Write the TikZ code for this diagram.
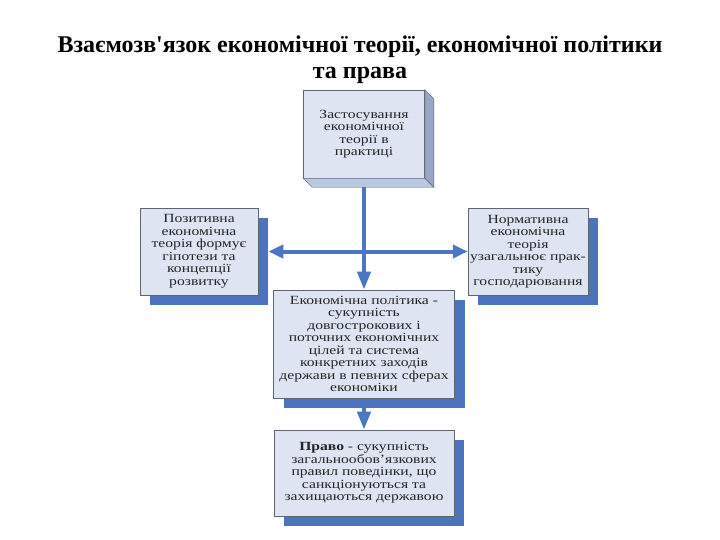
\documentclass[tikz,border=0pt]{standalone}
\usepackage{fontspec}
\setmainfont{Liberation Serif}
\newfontfamily\boxfont[FakeStretch=1.25]{Liberation Serif}
\usepackage{xcolor}
\usepackage{tikz}
\usetikzlibrary{arrows.meta,shadows}
\definecolor{panelfill}{HTML}{DEE4F1}
\definecolor{paneledge}{HTML}{5F6470}
\definecolor{shadowblue}{HTML}{4E73BE}
\definecolor{linkblue}{HTML}{4A76C2}
\definecolor{sideface}{HTML}{97A6C4}
\definecolor{baseface}{HTML}{B9C7E3}
\tikzset{
  panel/.style={draw=paneledge,line width=0.6pt,fill=panelfill,align=center,inner sep=2pt,
    font=\boxfont\fontsize{12.5}{12.5}\selectfont,text=black!85},
  shadowpanel/.style={panel,drop shadow={shadow xshift=10pt,shadow yshift=-10pt,fill=shadowblue,opacity=1}},
  link/.style={-{Triangle[length=18pt,width=13pt]},line width=4pt,draw=linkblue},
  twolink/.style={{Triangle[length=15pt,width=13pt]}-{Triangle[length=15pt,width=13pt]},line width=4pt,draw=linkblue}
}

\begin{document}
\begin{tikzpicture}[x=1pt,y=-1pt]
  \useasboundingbox (0,0) rectangle (720,540);
  \node[align=center,font=\bfseries\fontsize{24}{26}\selectfont] (title) at (360,60)
    {Взаємозв\textquotesingle язок економічної теорії, економічної політики\\та права};
  % boxes
  \node[panel,minimum width=121pt,minimum height=88pt] (practice) at (364,134)
    {Застосування\\економічної\\теорії в\\практиці};
  \fill[sideface,draw=paneledge,line width=0.4pt] (practice.north east) -- ++(9,9) -- ([shift={(9,9)}]practice.south east) -- (practice.south east) -- cycle;
  \fill[baseface,draw=paneledge,line width=0.4pt] (practice.south west) -- (practice.south east) -- ++(9,9) -- ([shift={(9,9)}]practice.south west) -- cycle;
  \node[shadowpanel,minimum width=118pt,minimum height=87pt] (positive) at (199,251.5)
    {Позитивна\\економічна\\теорія формує\\гіпотези та\\концепції\\розвитку};
  \node[shadowpanel,minimum width=118pt,minimum height=87pt] (normative) at (528,251.5)
    {Нормативна\\економічна\\теорія\\узагальнює прак-\\тику\\господарювання};
  \node[shadowpanel,minimum width=181pt,minimum height=108pt] (policy) at (364,344)
    {Економічна політика -\\сукупність\\довгострокових і\\поточних економічних\\цілей та система\\конкретних заходів\\держави в певних сферах\\економіки};
  \node[shadowpanel,minimum width=180pt,minimum height=86pt] (law) at (364,473)
    {\textbf{Право} - сукупність\\загальнообов’язкових\\правил поведінки, що\\санкціонуються та\\захищаються державою};
  % connectors
  \draw[link] ([yshift=-9pt]practice.south) -- (policy.north);
  \draw[twolink] ([xshift=10pt]positive.east) -- (normative.west);
  \draw[link] ([yshift=-10pt]policy.south) -- (law.north);
\end{tikzpicture}
\end{document}
